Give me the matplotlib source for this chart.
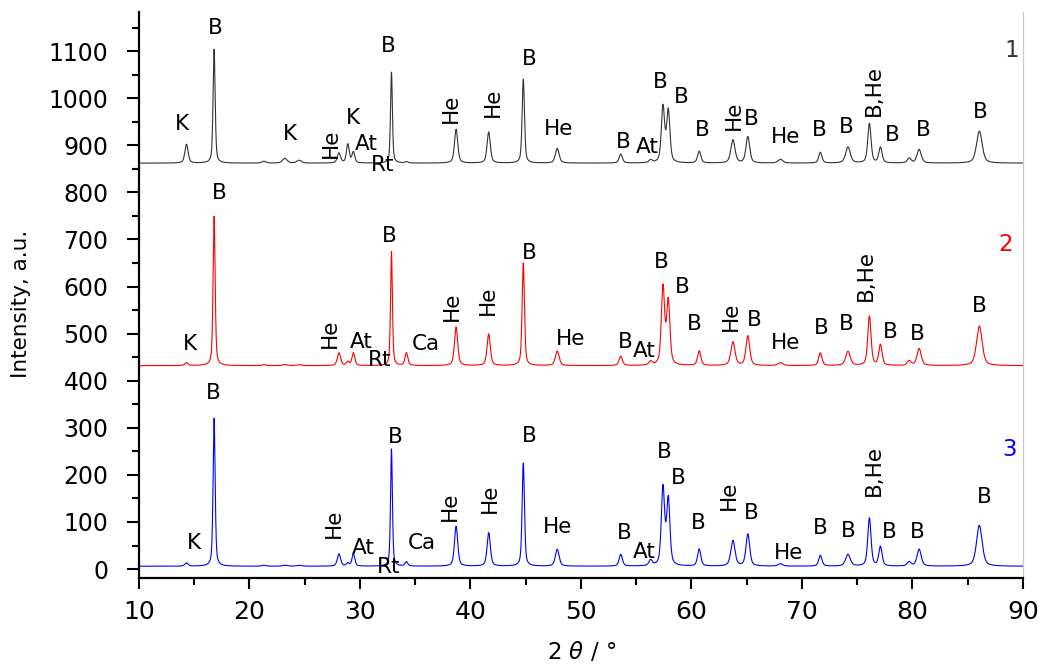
import numpy as np
import matplotlib
matplotlib.use("Agg")
import matplotlib.pyplot as plt
from matplotlib.ticker import MultipleLocator

plt.rcParams['font.family'] = ['DejaVu Sans']
plt.rcParams['mathtext.fontset'] = 'dejavusans'

# Diffraction peaks: position (2θ, deg) and FWHM (deg), shared by all samples
peak_pos = [14.3, 16.8, 21.3, 23.2, 24.5, 28.1, 28.9, 29.4, 32.85, 34.2, 38.7,
            41.65, 44.78, 47.85, 53.6, 56.3, 57.42, 57.9, 60.7, 63.75, 65.1,
            68.05, 71.66, 74.16, 76.1, 77.1, 79.7, 80.6, 86.05]
peak_fwhm = [0.35, 0.22, 0.4, 0.5, 0.5, 0.35, 0.3, 0.3, 0.2, 0.3, 0.35,
             0.35, 0.25, 0.4, 0.35, 0.35, 0.35, 0.35, 0.35, 0.45, 0.4,
             0.5, 0.35, 0.5, 0.35, 0.35, 0.4, 0.45, 0.6]

# Net peak heights for each sample
height_1 = [40, 242, 4, 10, 6, 21, 40, 23, 193, 3, 72, 66, 178, 31, 19, 6,
            118, 110, 25, 49, 56, 8, 23, 34, 84, 33, 10, 29, 68]
height_2 = [6, 317, 2, 2, 2, 27, 8, 27, 242, 27, 82, 67, 218, 31, 20, 8,
            165, 135, 31, 50, 63, 6, 27, 30, 105, 44, 10, 36, 84]
height_3 = [7, 314, 2, 2, 2, 26, 6, 26, 249, 9, 85, 71, 219, 36, 25, 12,
            165, 140, 36, 54, 68, 5, 23, 25, 102, 41, 9, 36, 87]

# Background level of each offset pattern
base_1, base_2, base_3 = 862, 432, 6

sample_names = ["1", "2", "3"]
sample_colors = ["#333333", "#ff0000", "#0000ff"]

# Phase labels: (text, x, y, rotated)
labels_1 = [("K", 13.9, 945, False), ("B", 16.9, 1149, False), ("K", 23.7, 924, False),
            ("He", 27.4, 905, True), ("K", 29.4, 957, False), ("At", 30.6, 902, False),
            ("Rt", 32.05, 858, False), ("B", 32.6, 1110, False), ("He", 38.2, 978, True),
            ("He", 42.0, 992, True), ("B", 45.3, 1084, False), ("He", 47.95, 935, False),
            ("B", 53.8, 907, False), ("At", 56.0, 897, False), ("B", 57.15, 1035, False),
            ("B", 59.05, 1003, False), ("B", 61.0, 932, False), ("He", 63.8, 964, True),
            ("B", 65.4, 955, False), ("He", 68.5, 917, False), ("B", 71.6, 932, False),
            ("B", 74.0, 938, False), ("B,He", 76.5, 1017, True), ("B", 78.2, 921, False),
            ("B", 81.0, 932, False), ("B", 86.1, 971, False)]
labels_2 = [("K", 14.6, 478, False), ("B", 17.3, 799, False), ("He", 27.3, 501, True),
            ("At", 30.15, 483, False), ("Rt", 31.8, 444, False), ("Ca", 36.0, 479, False),
            ("B", 32.65, 707, False), ("He", 38.35, 558, True), ("He", 41.6, 571, True),
            ("B", 45.3, 672, False), ("He", 49.1, 488, False), ("B", 54.0, 482, False),
            ("At", 55.75, 463, False), ("B", 57.3, 652, False), ("B", 59.2, 599, False),
            ("B", 60.25, 520, False), ("He", 63.6, 536, True), ("B", 65.7, 529, False),
            ("He", 68.5, 480, False), ("B", 71.7, 511, False), ("B", 74.0, 520, False),
            ("B,He", 75.8, 624, True), ("B", 78.0, 504, False), ("B", 80.4, 500, False),
            ("B", 86.0, 558, False)]
labels_3 = [("K", 15.0, 56, False), ("B", 16.7, 373, False), ("He", 27.6, 98, True),
            ("At", 30.3, 44, False), ("Rt", 32.6, 4, False), ("Ca", 35.6, 55, False),
            ("B", 33.2, 281, False), ("He", 38.1, 134, True), ("He", 41.8, 151, True),
            ("B", 45.3, 282, False), ("He", 47.84, 89, False), ("B", 53.9, 76, False),
            ("At", 55.7, 37, False), ("B", 57.5, 248, False), ("B", 58.8, 193, False),
            ("B", 60.6, 98, False), ("He", 63.4, 156, True), ("B", 65.4, 120, False),
            ("He", 68.8, 35, False), ("B", 71.66, 87, False), ("B", 74.2, 80, False),
            ("B,He", 76.5, 210, True), ("B", 77.9, 78, False), ("B", 80.4, 78, False),
            ("B", 86.5, 152, False)]

name_pos = [(88.97, 1102), (88.4, 690), (88.8, 253)]


def pattern(two_theta, heights, base):
    """Sum of pseudo-Voigt profiles on a flat background."""
    y = np.full_like(two_theta, float(base))
    for x0, h, w in zip(peak_pos, heights, peak_fwhm):
        d = (two_theta - x0) / (w / 2)
        lor = 1.0 / (1.0 + d ** 2)
        gau = np.exp(-np.log(2) * d ** 2)
        y += h * (0.5 * lor + 0.5 * gau)
    return y


two_theta = np.linspace(10, 90, 8001)

fig = plt.figure(figsize=(10.41, 6.66), dpi=100)
ax = fig.add_axes([0.1335, 0.1321, 0.8492, 0.8499])

series = [(height_1, base_1, labels_1), (height_2, base_2, labels_2),
          (height_3, base_3, labels_3)]
for (heights, base, labels), color, name, (nx, ny) in zip(series, sample_colors,
                                                          sample_names, name_pos):
    ax.plot(two_theta, pattern(two_theta, heights, base), color=color, lw=0.8)
    for text, x, y, rot in labels:
        ax.text(x, y, text, ha="center", va="center", fontsize=15.5,
                rotation=90 if rot else 0, color="black")
    ax.text(nx, ny, name, ha="center", va="center", fontsize=16.5, color=color)

ax.set_xlim(10, 90)
ax.set_ylim(-19, 1183)
ax.xaxis.set_major_locator(MultipleLocator(10))
ax.xaxis.set_minor_locator(MultipleLocator(5))
ax.yaxis.set_minor_locator(MultipleLocator(50))
ax.set_yticks(np.arange(0, 1101, 100))

ax.tick_params(axis="y", which="major", direction="out", length=9, width=1.5,
               labelsize=17, pad=13)
ax.tick_params(axis="y", which="minor", direction="out", length=5, width=1.5)
ax.tick_params(axis="x", which="major", direction="out", length=8, width=1.5,
               labelsize=18, pad=8)
ax.tick_params(axis="x", which="minor", direction="out", length=5, width=1.5)
ax.tick_params(which="both", right=False, top=False)

ax.spines["top"].set_visible(False)
ax.spines["left"].set_linewidth(1.6)
ax.spines["bottom"].set_linewidth(1.6)
ax.spines["right"].set_color("#c8c8c8")
ax.spines["right"].set_linewidth(0.8)

ax.set_ylabel("Intensity, a.u.", fontsize=15.5)
ax.yaxis.set_label_coords(-0.122, 0.484)
ax.set_xlabel(r"2 $\theta$ / °", fontsize=16.5)
ax.xaxis.set_label_coords(0.501, -0.11)

fig.savefig("out.png", dpi=100)
